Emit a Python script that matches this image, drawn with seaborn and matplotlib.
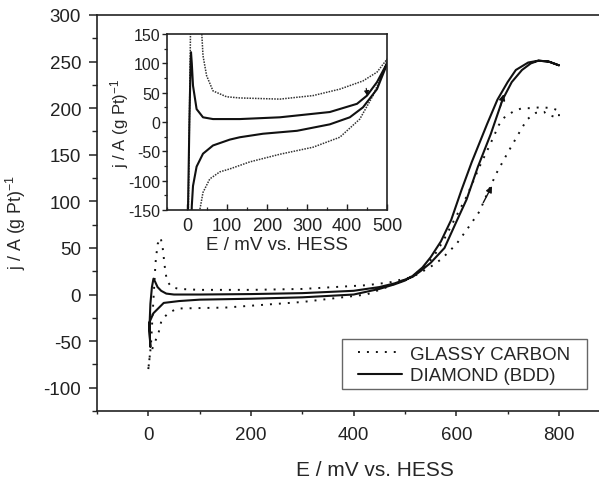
import numpy as np
import pandas as pd
import matplotlib
matplotlib.use("Agg")
import matplotlib.pyplot as plt
from matplotlib.ticker import MultipleLocator
from matplotlib.patches import Rectangle
import seaborn as sns

# ---------------- data ----------------
# Main plot, DIAMOND (BDD) CV loop (solid)
bdd_E = [4, 2, 4, 7, 10, 13, 18, 25, 35, 50, 100, 200, 300, 400, 450, 480, 515, 530, 550,
         577, 600, 620, 642, 667, 690, 708, 728, 745, 760, 780, 800,
         780, 760, 740, 716, 700, 680, 660, 630, 610, 590, 570, 550, 534, 515, 500, 480,
         450, 400, 300, 200, 100, 60, 30, 10, 2, 3, 4]
bdd_j = [-56, -38, -10, 8, 17, 14, 8, 4, 1, 0, 0, 0.5, 1.5, 4, 8, 12, 19, 25, 34,
         50, 78, 102, 137, 172, 209, 228, 241, 248, 251, 250, 246,
         250, 251, 249, 241, 228, 209, 183, 142, 112, 80, 57, 40, 29, 20, 15, 11,
         6, 0, -3, -4.5, -5.5, -7, -9, -20, -30, -45, -56]

# Main plot, GLASSY CARBON CV loop (dotted)
gc_E = [0, 5, 8, 11, 14, 18, 24, 28, 32, 36, 45, 60, 100, 200, 300, 425, 470, 515, 548,
        571, 600, 621, 645, 660, 678, 700, 726, 738, 755, 771, 777, 790, 800,
        800, 796, 787, 765, 745, 728, 713, 695, 683, 665, 645, 620, 596, 575, 555, 535,
        515, 470, 425, 300, 200, 150, 56, 39, 26, 20, 10, 3, 0]
gc_j = [-80, -55, -25, 5, 34, 54, 61, 50, 30, 15, 8, 6, 5, 5, 6, 10, 13, 19, 29,
        38, 54, 70, 89, 108, 130, 152, 177, 188, 195, 196, 193, 191, 190,
        198, 198, 200, 201, 200, 200, 197, 191, 182, 160, 137, 105, 80, 58, 40, 28,
        20, 9, 0, -8, -12, -14, -15, -20, -27, -41, -55, -65, -80]

# Inset, DIAMOND (solid)
ins_bdd_E = [2, 6, 9, 10, 12, 15, 24, 40, 65, 132, 232, 357, 425, 450, 475, 500,
             495, 475, 440, 407, 357, 275, 190, 132, 107, 65, 40, 24, 15, 12, 11]
ins_bdd_j = [-170, 0, 100, 119, 100, 62, 22, 8, 5, 5, 8, 17, 31, 45, 68, 100,
             90, 56, 25, 8, -4, -15, -20, -26, -30, -40, -54, -76, -109, -143, -170]

# Inset, GLASSY CARBON (dotted)
ins_gc_E = [3, 6, 9, 30, 37, 40, 49, 65, 99, 132, 232, 315, 382, 440, 475, 500,
            497, 465, 432, 382, 315, 232, 157, 107, 82, 57, 40, 32, 28]
ins_gc_j = [-170, 0, 170, 170, 150, 113, 79, 53, 43, 41, 39, 45, 56, 70, 85, 107,
            95, 45, 5, -26, -43, -55, -68, -80, -85, -97, -120, -150, -170]

labels = ["GLASSY CARBON", "DIAMOND (BDD)"]
main_xticks = [0, 200, 400, 600, 800]
main_yticks = [-100, -50, 0, 50, 100, 150, 200, 250, 300]
inset_xticks = [0, 100, 200, 300, 400, 500]
inset_yticks = [-150, -100, -50, 0, 50, 100, 150]

# ---------------- style ----------------
sns.set_theme(style="ticks")
plt.rcParams["font.family"] = ["Liberation Sans", "DejaVu Sans"]
plt.rcParams["mathtext.fontset"] = "custom"
plt.rcParams["mathtext.rm"] = "Liberation Sans"
plt.rcParams["mathtext.it"] = "Liberation Sans:italic"
plt.rcParams["mathtext.default"] = "rm"
plt.rcParams["axes.unicode_minus"] = False
plt.rcParams["axes.edgecolor"] = "#222222"
plt.rcParams["xtick.color"] = "#222222"
plt.rcParams["ytick.color"] = "#222222"

W, H = 599, 481
fig = plt.figure(figsize=(W / 100, H / 100), dpi=100)
fig.patch.set_facecolor("white")

def frac(l, t, r, b):
    return [l / W, 1 - b / H, (r - l) / W, (b - t) / H]

ax = fig.add_axes(frac(97, 16, 599, 412))
ax.set_facecolor("white")

df_gc = pd.DataFrame({"E": gc_E, "j": gc_j})
df_bdd = pd.DataFrame({"E": bdd_E, "j": bdd_j})
sns.lineplot(data=df_gc, x="E", y="j", sort=False, estimator=None, ax=ax,
             color="#111111", lw=1.4, linestyle=(0, (1, 3.6)), label=labels[0])
sns.lineplot(data=df_bdd, x="E", y="j", sort=False, estimator=None, ax=ax,
             color="#111111", lw=1.5, label=labels[1])

ax.set_xlim(-100, 878)
ax.set_ylim(-125, 300)
ax.set_xticks(main_xticks)
ax.set_yticks(main_yticks)
ax.xaxis.set_minor_locator(MultipleLocator(100))
ax.yaxis.set_minor_locator(MultipleLocator(25))
ax.tick_params(axis="y", which="major", direction="out", length=6, width=1.1, labelsize=13.5, pad=5.5)
ax.tick_params(axis="y", which="minor", direction="out", length=3.6, width=1.0)
ax.tick_params(axis="x", which="major", direction="out", length=3.6, width=1.1, labelsize=13.5, pad=7)
ax.tick_params(axis="x", which="minor", direction="out", length=2.4, width=1.0)
ax.spines["right"].set_visible(False)
for s in ["left", "bottom", "top"]:
    ax.spines[s].set_linewidth(1.2)
ax.set_xlabel("E / mV vs. HESS", fontsize=15)
ax.set_ylabel("j / A (g Pt)$^{-1}$", fontsize=12.8)
ax.xaxis.set_label_coords((375 - 97) / 502, -0.125)
ax.yaxis.set_label_coords((28 - 97) / 502, (412 - 222) / 396)

# direction arrows
ax.annotate("", xy=(694, 218), xytext=(684, 198),
            arrowprops=dict(arrowstyle="-|>", color="#111111", lw=1.0, mutation_scale=9))
ax.annotate("", xy=(672, 119), xytext=(650, 96),
            arrowprops=dict(arrowstyle="-|>", color="#111111", lw=1.0, mutation_scale=9))

# legend (frame drawn separately to match the box proportions)
frame = Rectangle(((342 - 97) / 502, (412 - 390) / 396), (587 - 342) / 502, 50 / 396,
                  transform=ax.transAxes, facecolor="white", edgecolor="#666666",
                  lw=1.0, zorder=4)
ax.add_patch(frame)
leg = ax.legend(loc="center left",
                bbox_to_anchor=((360 - 97) / 502 - 0.003, (412 - 366) / 396),
                borderaxespad=0, borderpad=0, fontsize=13.5, frameon=False,
                handlelength=2.3, handletextpad=0.45, labelspacing=0.25)
leg.set_zorder(5)

# ---------------- inset ----------------
ax2 = fig.add_axes(frac(167, 35, 387, 211))
ax2.set_facecolor("white")
df_igc = pd.DataFrame({"E": ins_gc_E, "j": ins_gc_j})
df_ibdd = pd.DataFrame({"E": ins_bdd_E, "j": ins_bdd_j})
sns.lineplot(data=df_igc, x="E", y="j", sort=False, estimator=None, ax=ax2,
             color="#333333", lw=1.1, linestyle=(0, (1, 0.8)), legend=False)
sns.lineplot(data=df_ibdd, x="E", y="j", sort=False, estimator=None, ax=ax2,
             color="#111111", lw=1.5, legend=False)
ax2.annotate("", xy=(452, 40), xytext=(447, 62),
             arrowprops=dict(arrowstyle="-|>", color="#111111", lw=0.8, mutation_scale=7))
ax2.set_xlim(-50, 500)
ax2.set_ylim(-150, 150)
ax2.set_xticks(inset_xticks)
ax2.set_yticks(inset_yticks)
ax2.xaxis.set_minor_locator(MultipleLocator(50))
ax2.yaxis.set_minor_locator(MultipleLocator(25))
ax2.tick_params(axis="x", which="major", direction="in", length=4, width=1.0, labelsize=13, pad=5)
ax2.tick_params(axis="x", which="minor", direction="in", length=2.5, width=0.9)
ax2.tick_params(axis="y", which="major", direction="out", length=3.5, width=1.0, labelsize=11.5, pad=1.5)
ax2.tick_params(axis="y", which="minor", direction="out", length=2, width=0.9)
for s in ax2.spines.values():
    s.set_linewidth(1.2)
ax2.set_xlabel("E / mV vs. HESS", fontsize=13.5, labelpad=1.5)
ax2.set_ylabel("j / A (g Pt)$^{-1}$", fontsize=12)
ax2.yaxis.set_label_coords((131 - 167) / 220, 0.5)

fig.savefig("out.png", dpi=100, facecolor="white")
